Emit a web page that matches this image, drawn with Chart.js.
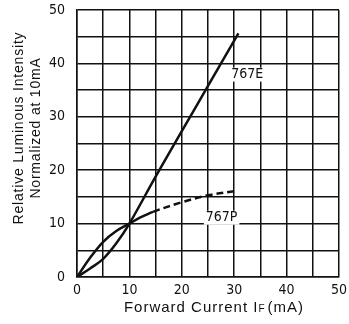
<!DOCTYPE html>
<html>
<head>
<meta charset="utf-8">
<script src="https://cdn.jsdelivr.net/npm/chart.js@4"></script>
<style>
  html, body { margin: 0; padding: 0; background: #fff; }
  #wrap { width: 349px; height: 324px; }
</style>
</head>
<body>
<div id="wrap"><canvas id="chart" width="349" height="324"></canvas></div>
<script>
// 767E: forward current (mA) vs relative intensity
const currentE = [0, 2.5, 5, 7.5, 10, 15, 20, 25, 30.8];
const intensityE = [0, 1.6, 3.4, 6.3, 10, 18.8, 27.3, 35.8, 45.6];

// 767P
const currentP = [0, 2.5, 5, 7.5, 10, 12, 14.5, 20, 25, 30.2];
const intensityP = [0, 3.6, 6.6, 8.6, 10, 11.1, 12.2, 14, 15.3, 16.1];

const seriesNames = ['767E', '767P'];
const xTicks = [0, 10, 20, 30, 40, 50];
const yTicks = [0, 10, 20, 30, 40, 50];

const narrow = "'Liberation Sans Narrow', 'DejaVu Sans Condensed', sans-serif";
const sans = "'Liberation Sans', Arial, sans-serif";

const toPoints = (xs, ys) => xs.map((x, i) => ({ x, y: ys[i] }));

const noPad = (s) => {
  s.paddingTop = 0;
  s.paddingBottom = 0;
  s.paddingLeft = 0;
  s.paddingRight = 0;
};

// series labels, axis titles (with IF subscript)
const annotate = {
  id: 'annotate',
  afterDraw(chart) {
    const { ctx, chartArea, scales } = chart;
    const x = scales.x;
    const y = scales.y;
    ctx.save();
    ctx.fillStyle = '#111';
    ctx.textBaseline = 'middle';
    ctx.textAlign = 'center';
    ctx.font = '14px ' + narrow;

    const labels = [
      { text: seriesNames[0], px: x.getPixelForValue(32.5), py: y.getPixelForValue(37.9) },
      { text: seriesNames[1], px: x.getPixelForValue(27.6), py: y.getPixelForValue(11.1) },
    ];
    labels.forEach((l) => {
      const w = ctx.measureText(l.text).width;
      ctx.fillStyle = '#fff';
      ctx.fillRect(l.px - w / 2 - 2, l.py - 7, w + 4, 14);
      ctx.fillStyle = '#111';
      ctx.fillText(l.text, l.px, l.py);
    });

    // y title, two lines
    ctx.save();
    ctx.translate(19, 128);
    ctx.rotate(-Math.PI / 2);
    ctx.font = '14px ' + sans;
    ctx.letterSpacing = '0.8px';
    ctx.fillText('Relative Luminous Intensity', 0, 0);
    ctx.fillText('Normalized at 10mA', 0, 17);
    ctx.restore();

    // x title with subscript F
    ctx.letterSpacing = '1px';
    const cx = (chartArea.left + chartArea.right) / 2 + 6;
    const ty = 308;
    const partA = 'Forward Current I';
    const partB = 'F';
    const partC = '(mA)';
    ctx.font = '15px ' + sans;
    const wA = ctx.measureText(partA).width;
    const wC = ctx.measureText(partC).width;
    ctx.font = '10px ' + sans;
    const wB = ctx.measureText(partB).width;
    let sx = cx - (wA + wB + wC + 2) / 2;
    ctx.textAlign = 'left';
    ctx.font = '15px ' + sans;
    ctx.fillText(partA, sx, ty);
    sx += wA;
    ctx.font = '10px ' + sans;
    ctx.fillText(partB, sx, ty + 1);
    sx += wB + 2;
    ctx.font = '15px ' + sans;
    ctx.fillText(partC, sx, ty);
    ctx.restore();
  },
};

const ctx = document.getElementById('chart');
new Chart(ctx, {
  type: 'line',
  data: {
    datasets: [
      {
        label: seriesNames[0],
        data: toPoints(currentE, intensityE),
        borderColor: '#111',
        borderWidth: 2.5,
        pointRadius: 0,
        tension: 0.35,
        fill: false,
      },
      {
        label: seriesNames[1],
        data: toPoints(currentP, intensityP),
        borderColor: '#111',
        borderWidth: 2.5,
        pointRadius: 0,
        tension: 0.35,
        fill: false,
        segment: {
          borderDash: (c) => (c.p0.parsed.x >= 14.5 ? [7, 4] : undefined),
        },
      },
    ],
  },
  options: {
    responsive: false,
    animation: false,
    layout: { padding: { top: 10, right: 10, left: 0, bottom: 0 } },
    plugins: {
      legend: { display: false },
      tooltip: { enabled: false },
    },
    scales: {
      x: {
        type: 'linear',
        min: 0,
        max: 50,
        afterFit: (s) => { s.height = 47; noPad(s); },
        ticks: {
          stepSize: 5,
          padding: 5,
          color: '#111',
          font: { size: 14, family: narrow },
          callback: (v) => (xTicks.includes(v) ? String(v) : ''),
          maxRotation: 0,
          autoSkip: false,
        },
        grid: { color: '#111', lineWidth: 1.5, drawTicks: false },
        border: { color: '#111', width: 1.5 },
      },
      y: {
        min: 0,
        max: 50,
        afterFit: (s) => { s.width = 77; noPad(s); },
        ticks: {
          stepSize: 5,
          padding: 12,
          color: '#111',
          font: { size: 14, family: narrow },
          callback: (v) => (yTicks.includes(v) ? String(v) : ''),
          autoSkip: false,
        },
        grid: { color: '#111', lineWidth: 1.5, drawTicks: false },
        border: { color: '#111', width: 1.5 },
      },
    },
  },
  plugins: [annotate],
});
</script>
</body>
</html>
